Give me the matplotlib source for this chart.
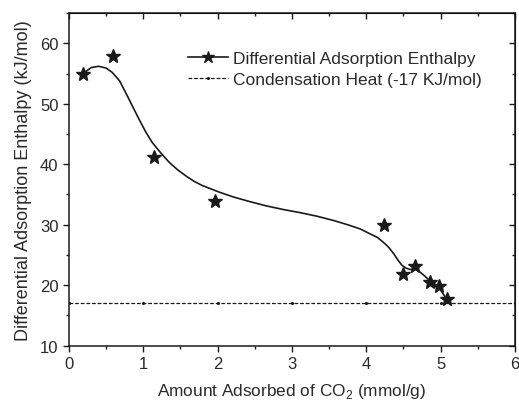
import matplotlib
matplotlib.use("Agg")
import matplotlib.pyplot as plt
from matplotlib.ticker import MultipleLocator
from matplotlib.lines import Line2D

plt.rcParams['font.family'] = ['Liberation Sans', 'DejaVu Sans']
plt.rcParams['mathtext.fontset'] = 'custom'
plt.rcParams['mathtext.rm'] = 'Liberation Sans'

# measured points
amount = [0.19, 0.59, 1.15, 1.96, 4.24, 4.50, 4.66, 4.86, 4.98, 5.09]
enthalpy = [55.0, 57.9, 41.2, 34.0, 30.0, 21.8, 23.2, 20.6, 19.9, 17.8]

# smooth fitted curve
curve_x = [0.19, 0.30, 0.40, 0.50, 0.58, 0.68, 0.76, 0.85, 0.94, 1.03, 1.12, 1.24, 1.35, 1.46,
           1.57, 1.68, 1.79, 2.02, 2.21, 2.44, 2.66, 2.89, 3.11, 3.34, 3.56, 3.75, 3.92,
           4.05, 4.15, 4.23, 4.30, 4.37, 4.43, 4.48, 4.54, 4.59, 4.64, 4.68, 4.77, 4.86, 4.97, 5.08]
curve_y = [55.0, 56.0, 56.2, 55.9, 55.2, 53.8, 51.9, 49.7, 47.5, 45.4, 43.6, 41.8, 40.3, 39.1,
           38.1, 37.2, 36.5, 35.4, 34.6, 33.8, 33.1, 32.5, 32.0, 31.4, 30.7, 30.0, 29.3,
           28.5, 27.9, 27.1, 26.3, 25.2, 24.1, 23.3, 22.8, 22.6, 22.6, 22.6, 21.7, 20.7, 19.8, 17.7]

condensation_heat = 17.0
cond_marker_x = [0, 1, 2, 3, 4, 5, 6]

INK = '#1a1a1a'
TXT = '#2a2a2a'

fig = plt.figure(figsize=(5.19, 4.02), dpi=100)
ax = fig.add_axes([0.133, 0.1376, 0.859, 0.8274])

ax.plot(curve_x, curve_y, color=INK, lw=1.2)
ax.plot(amount, enthalpy, linestyle='none', marker='*', ms=10.5, color=INK)
ax.axhline(condensation_heat, color=INK, lw=0.9, ls=(0, (3, 1.5)))
ax.plot(cond_marker_x, [condensation_heat] * len(cond_marker_x), linestyle='none',
        marker='.', ms=2.5, color=INK)

ax.set_xlim(0, 6)
ax.set_ylim(10, 65)
ax.xaxis.set_major_locator(MultipleLocator(1))
ax.xaxis.set_minor_locator(MultipleLocator(0.5))
ax.yaxis.set_major_locator(MultipleLocator(10))
ax.yaxis.set_minor_locator(MultipleLocator(5))
ax.tick_params(which='both', direction='out', labelsize=12, width=1, colors=INK,
               labelcolor=TXT, pad=3)
ax.tick_params(which='major', length=4.5)
ax.tick_params(which='minor', length=2.5)

# inward mirror ticks on top/right
secx = ax.secondary_xaxis('top')
secx.xaxis.set_major_locator(MultipleLocator(1))
secx.xaxis.set_minor_locator(MultipleLocator(0.5))
secx.tick_params(which='both', direction='in', labeltop=False, width=1, colors=INK)
secx.tick_params(which='major', length=4.5)
secx.tick_params(which='minor', length=2.5)
secy = ax.secondary_yaxis('right')
secy.yaxis.set_major_locator(MultipleLocator(10))
secy.yaxis.set_minor_locator(MultipleLocator(5))
secy.tick_params(which='both', direction='in', labelright=False, width=1, colors=INK)
secy.tick_params(which='major', length=4.5)
secy.tick_params(which='minor', length=2.5)

for s in ax.spines.values():
    s.set_linewidth(1.1)
    s.set_color(INK)

ax.set_xlabel('Amount Adsorbed of CO$_2$ (mmol/g)', fontsize=12.4, color=TXT, labelpad=7)
ax.set_ylabel('Differential Adsorption Enthalpy (kJ/mol)', fontsize=13, color=TXT, labelpad=6)

handles = [
    Line2D([], [], color=INK, lw=1.2, marker='*', ms=9),
    Line2D([], [], color=INK, lw=0.9, ls=(0, (3, 1.5)), marker='.', ms=2.5),
]
ax.legend(handles, ['Differential Adsorption Enthalpy', 'Condensation Heat (-17 KJ/mol)'],
          loc='upper left', bbox_to_anchor=(0.267, 0.885), frameon=False, fontsize=12.5,
          handlelength=2.3, handletextpad=0.3, labelspacing=0.32, borderpad=0,
          borderaxespad=0, labelcolor=TXT)

fig.savefig('out.png', dpi=100)
